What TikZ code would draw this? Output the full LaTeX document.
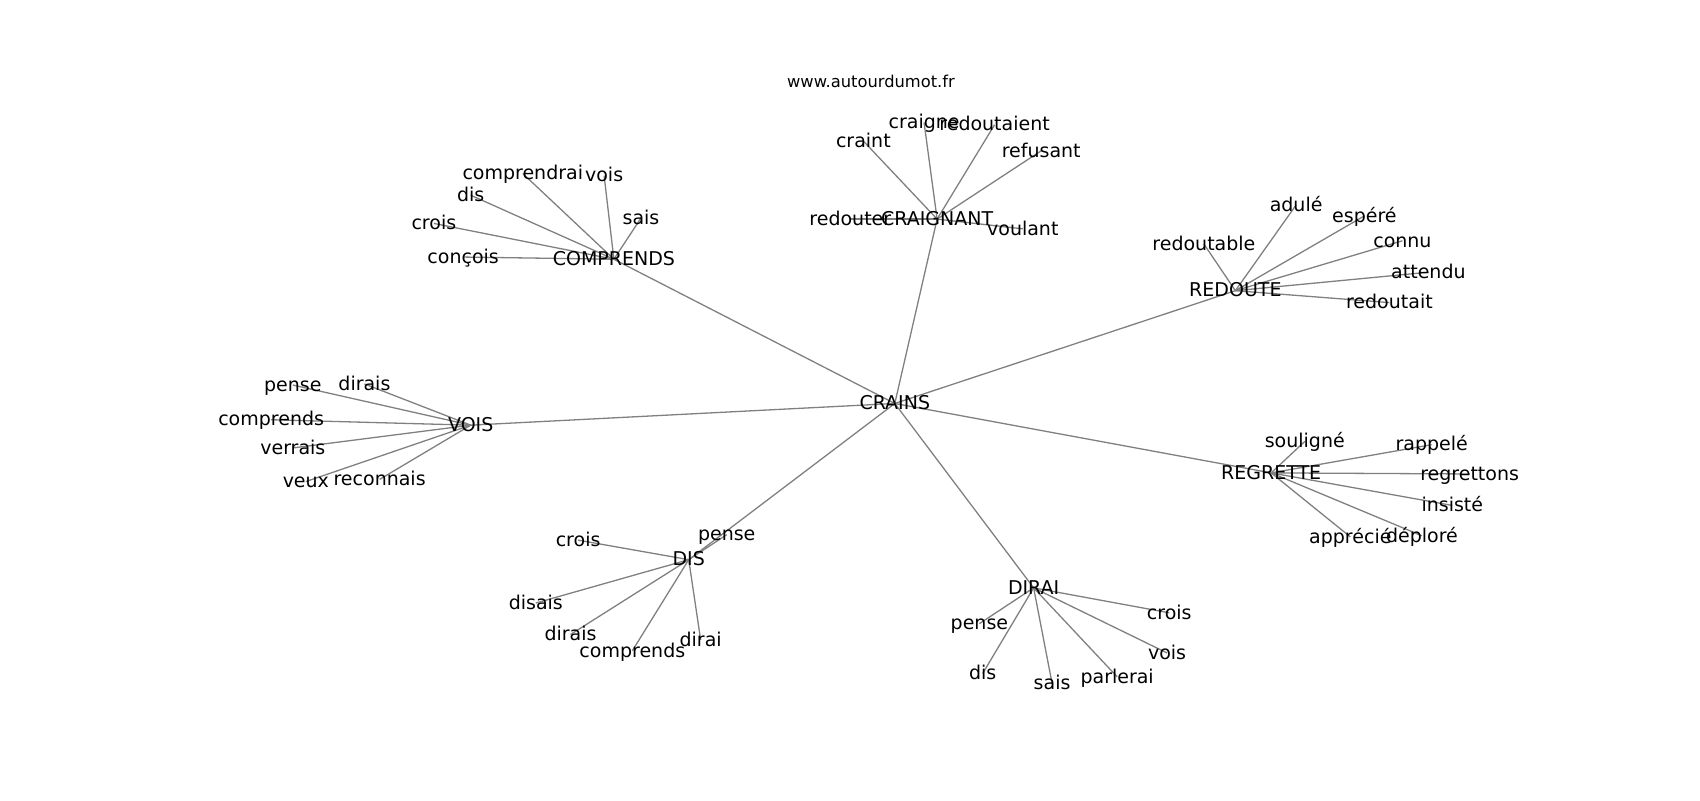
\documentclass[tikz,border=0pt]{standalone}
\usepackage{fontspec}
\setmainfont{DejaVu Sans}
\usetikzlibrary{backgrounds}
\begin{document}
\begin{tikzpicture}[x=1.0846pt,y=-1.0846pt,
  lbl/.style={inner sep=0pt,text height=12.5pt,text depth=0pt,anchor=center,
    font=\fontsize{19}{22}\selectfont,text=black},
  ttl/.style={inner sep=0pt,text height=11pt,text depth=0pt,anchor=center,
    font=\fontsize{16.3}{19}\selectfont,text=black},
  edge/.style={draw=gray,line width=1.3pt}]
\useasboundingbox (0,0) rectangle (1567.4,737.6);
\node[ttl] (title) at (803,76) {www.autourdumot.fr};
% hubs
\node[lbl] (crains) at (825,372) {CRAINS};
\node[lbl] (craignant) at (864,202) {CRAIGNANT};
\node[lbl] (comprends) at (566,239) {COMPRENDS};
\node[lbl] (redoute) at (1139,268) {REDOUTE};
\node[lbl] (vois) at (434,392) {VOIS};
\node[lbl] (regrette) at (1172,436) {REGRETTE};
\node[lbl] (dis) at (635,516) {DIS};
\node[lbl] (dirai) at (953,542) {DIRAI};
% CRAIGNANT leaves
\node[lbl] (a1) at (796,130) {craint};
\node[lbl] (a2) at (852,113) {craigne};
\node[lbl] (a3) at (917,115) {redoutaient};
\node[lbl] (a4) at (960,139) {refusant};
\node[lbl] (a5) at (784,202) {redouter};
\node[lbl] (a6) at (943,211) {voulant};
% COMPRENDS leaves
\node[lbl] (b1) at (482,160) {comprendrai};
\node[lbl] (b2) at (557,162) {vois};
\node[lbl] (b3) at (434,180) {dis};
\node[lbl] (b4) at (591,201) {sais};
\node[lbl] (b5) at (400,206) {crois};
\node[lbl] (b6) at (427,237) {conçois};
% REDOUTE leaves
\node[lbl] (c1) at (1195,189) {adulé};
\node[lbl] (c2) at (1258,199) {espéré};
\node[lbl] (c3) at (1110,225) {redoutable};
\node[lbl] (c4) at (1293,222) {connu};
\node[lbl] (c5) at (1317,251) {attendu};
\node[lbl] (c6) at (1281,279) {redoutait};
% VOIS leaves
\node[lbl] (d1) at (270,355) {pense};
\node[lbl] (d2) at (336,354) {dirais};
\node[lbl] (d3) at (250,387) {comprends};
\node[lbl] (d4) at (270,413) {verrais};
\node[lbl] (d5) at (282,444) {veux};
\node[lbl] (d6) at (350,442) {reconnais};
% REGRETTE leaves
\node[lbl] (e1) at (1203,407) {souligné};
\node[lbl] (e2) at (1320,410) {rappelé};
\node[lbl] (e3) at (1355,437) {regrettons};
\node[lbl] (e4) at (1339,466) {insisté};
\node[lbl] (e5) at (1245,495) {apprécié};
\node[lbl] (e6) at (1311,494) {déploré};
% DIS leaves
\node[lbl] (f1) at (670,493) {pense};
\node[lbl] (f2) at (533,498) {crois};
\node[lbl] (f3) at (494,556) {disais};
\node[lbl] (f4) at (526,585) {dirais};
\node[lbl] (f5) at (583,600) {comprends};
\node[lbl] (f6) at (646,590) {dirai};
% DIRAI leaves
\node[lbl] (g1) at (903,575) {pense};
\node[lbl] (g2) at (1078,565) {crois};
\node[lbl] (g3) at (1076,602) {vois};
\node[lbl] (g4) at (906,621) {dis};
\node[lbl] (g5) at (970,630) {sais};
\node[lbl] (g6) at (1030,624) {parlerai};
\begin{scope}[on background layer]
\foreach \h in {craignant,comprends,redoute,vois,regrette,dis,dirai}
  \draw[edge] (crains.center) -- (\h.center);
\foreach \l in {a1,a2,a3,a4,a5,a6} \draw[edge] (craignant.center) -- (\l.center);
\foreach \l in {b1,b2,b3,b4,b5,b6} \draw[edge] (comprends.center) -- (\l.center);
\foreach \l in {c1,c2,c3,c4,c5,c6} \draw[edge] (redoute.center) -- (\l.center);
\foreach \l in {d1,d2,d3,d4,d5,d6} \draw[edge] (vois.center) -- (\l.center);
\foreach \l in {e1,e2,e3,e4,e5,e6} \draw[edge] (regrette.center) -- (\l.center);
\foreach \l in {f1,f2,f3,f4,f5,f6} \draw[edge] (dis.center) -- (\l.center);
\foreach \l in {g1,g2,g3,g4,g5,g6} \draw[edge] (dirai.center) -- (\l.center);
\end{scope}
\end{tikzpicture}
\end{document}
